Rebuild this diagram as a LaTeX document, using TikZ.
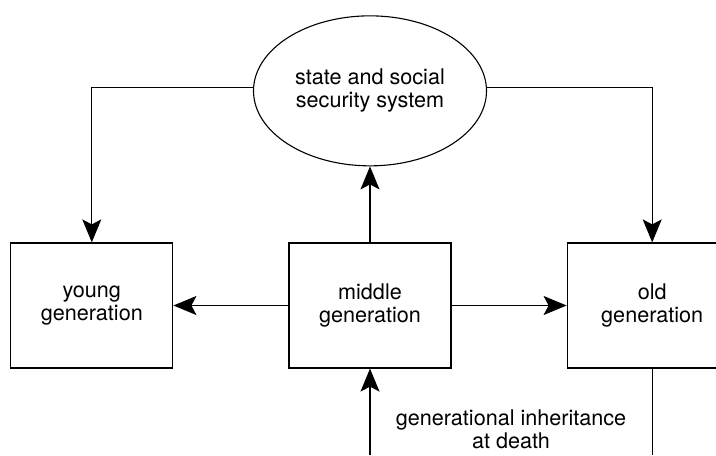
\documentclass[tikz,border=0pt]{standalone}
\usepackage{fontspec}
\setmainfont{TeX Gyre Heros}
\usetikzlibrary{arrows.meta, shapes.geometric, positioning}
\tikzset{%
>={Stealth[length=11.5pt,width=9.5pt,inset=2.5pt]},
  % Specifications for style of nodes:
            gen/.style = {rectangle, draw=black, line width=0.6pt,
                            minimum width=81pt, minimum
                            height=62.5pt, align=center,
                            font=\fontsize{10.8}{11.5}\selectfont},
            sysnode/.style = {ellipse, draw=black, line width=0.55pt, inner sep=0pt,
                            minimum width=116.5pt, minimum height=75pt, align=center,
                            font=\fontsize{10.8}{11.5}\selectfont},
            lbl/.style = {align=center, font=\fontsize{10.8}{11.5}\selectfont},
            flow/.style = {draw=black, line width=0.6pt}
}
\begin{document}
\begin{tikzpicture}[x=0.5pt, y=-0.5pt, node distance=57.5pt]
                        \useasboundingbox (0,0) rectangle (716,455);
                        \clip (0,0) rectangle (716,455);
                        \node[gen] (mid) at (370,305.5) {middle\\generation};
                        \node[gen, left=of mid] (young) {young\\generation};
                        \node[gen, right=of mid, minimum width=85pt] (old) {old\\generation};
                        \node[sysnode, above=38pt of mid] (sys) {state and social\\security system};
                        \node[lbl] (inhlbl) at (511,429) {generational inheritance\\at death};
                        \coordinate (inh) at (370,455);
                        \coordinate (oldend) at (old.south |- inh);
                        \draw[flow, ->] (mid.north) -- (sys.south);
                        \draw[flow, ->] (mid.west) -- (young.east);
                        \draw[flow, ->] (mid.east) -- (old.west);
                        \draw[flow, ->] ([yshift=1.5pt]sys.west) -| (young.north);
                        \draw[flow, ->] ([yshift=1.5pt]sys.east) -| (old.north);
                        \draw[flow, ->] (inh) -- (mid.south);
                        \draw[flow] (old.south) -- (oldend);
                    \end{tikzpicture}
\end{document}
